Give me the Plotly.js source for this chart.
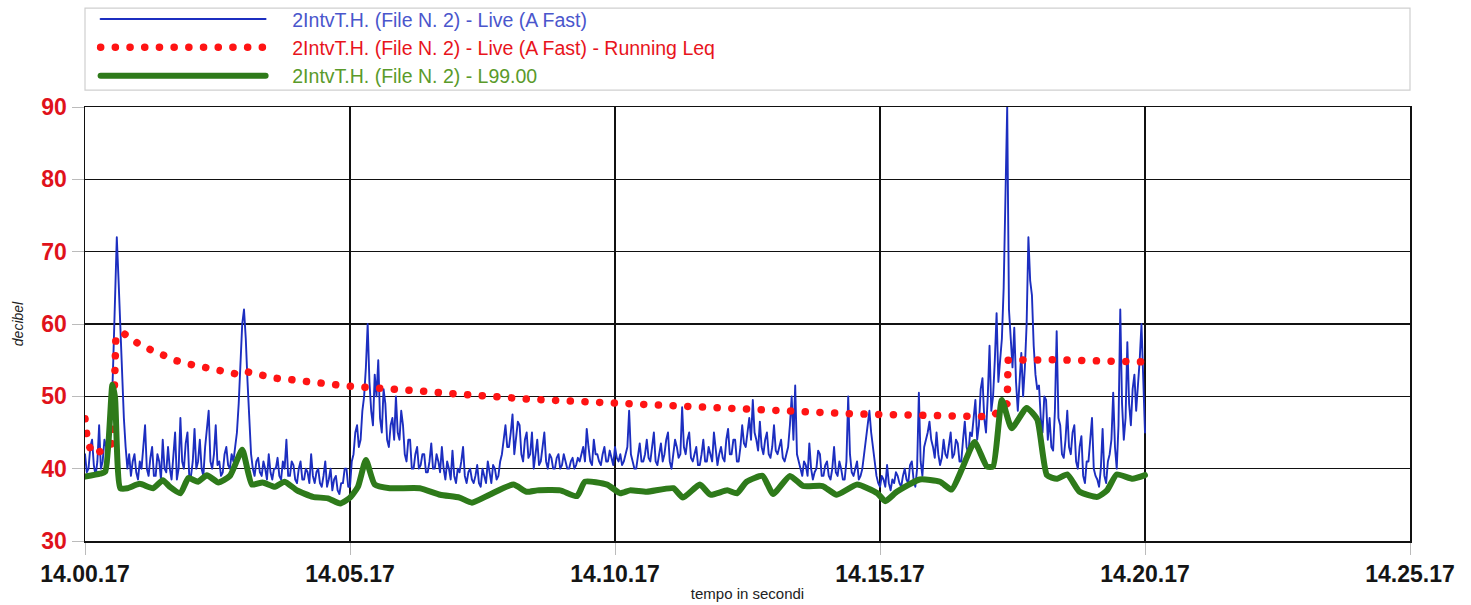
<!DOCTYPE html>
<html>
<head>
<meta charset="utf-8">
<script src="https://cdn.plot.ly/plotly-3.0.1.min.js"></script>
<style>
  html, body { margin: 0; padding: 0; background: #fff; }
  #chart { width: 1471px; height: 605px; }
  .js-line { stroke-linecap: round; stroke-linejoin: round; }
</style>
</head>
<body>
<div id="chart"></div>
<script>
// ---- data ----
const xTickSeconds = [0, 300, 600, 900, 1200, 1500];
const xTickLabels = ["14.00.17", "14.05.17", "14.10.17", "14.15.17", "14.20.17", "14.25.17"];
const yTickValues = [30, 40, 50, 60, 70, 80, 90];

const seriesNames = [
  "2IntvT.H. (File N. 2) - Live (A Fast)",
  "2IntvT.H. (File N. 2) - Live (A Fast) - Running Leq",
  "2IntvT.H. (File N. 2) - L99.00"
];

// Live (A Fast), one reading every 2 s from 14.00.17 (each row = 40 s)
const liveStepSec = 2;
const liveDb = [
  42,39.5,40,43,44,40.5,39,41,46,40,41,44,43,40,45,47,55,63,72,66,
  60,52,47,43,40,42,39,41,42,39.5,38.5,41,40,43,46,40,39,41.5,43,39,
  39,42,41,38.5,44,40,39.5,43,40,38.5,42,45,38.5,40,47,41,40,43.5,45,39,
  39,41,45.5,40,41,44,40,39,43,46,48,41,40,42,46,40.5,41,39,39.5,42,
  43,40.5,40,42,41,43,45,49,55,60,62,58,52,46,42,40,39,41,41.5,39.5,
  39,41,40,38.5,42,39.5,38.5,40,40,41.5,39,38.5,41,40,44,39,39,41,40.5,38.5,
  38,40,41,38.5,38.5,40,39.5,38,42,39,38,39.5,40,38,37.5,39,41,37.5,38.5,40,
  37,38.5,39,37,36.5,38,38,40,40,37.5,37.5,41,42,45,46,43,44,48,50,54,
  60,52,48,46,53,50,55,47,45,51,49,44,43,46,47,44,50,45,44,48,
  46,42,41,44,44,40,40,42,43,40,40.5,42,42,39.5,39.5,41,43.5,40,40,42,
  41,39.5,43,40,38.5,41,40,38.5,42.5,39,38,40,39.5,41,43,39,38,39.5,40,38.5,
  38,39,40.5,38,37.5,40,39,38,41,39.5,38,40.5,40,38.5,39,41,42,44,46,43,
  43,45,47.5,42,44,46.5,46,42,41,44,45,41.5,42,45,40,42,44,40.5,41,43,
  45,41,40,42,41.5,40,40,41.5,42,40,40.5,42,41,40,40,41,41.5,40,40.5,41.5,
  41,42,43,41,45.5,43,41,40.5,44,42,42,41,40.5,42,43,41,41,42.5,41.5,40.5,
  43,41.5,41,42,40.5,41,42,43,48,42,41,40,40,42,43.5,41,41,42,44,41.5,
  41,43,45,41,40.5,42,43.5,41,42,44,45,41,40,42,44,43,41.5,42,48.5,43,
  42,44,45,41.5,41,42,43,40.5,40.5,42,44,41,41,43,42,41,45,42.5,40.5,42,
  43,41.5,41,44,45.5,42,42,44,44,41,41,43,46,43.5,43,45,47,44,49.5,45,
  44,42.5,46.5,43,42,44,45,42,41.5,43,46,42.5,42,43,44,41.5,41,42,43,46,
  50,44,51.5,42,41,40,39,41,40.5,39,43.5,40,38.5,39.5,40,42.5,42,39,39,40.5,
  41,39,38.5,40,43,39.5,39,41,40,38.5,38.5,41,50,42,39.5,39,40,41,38.5,39,
  40,42,44,46,48,45,43,41,39,38,37.5,39,38.5,37.5,40.5,38,37,38.5,38,39.5,
  39,38,37.5,39,40,38.5,38,40.5,41,38.5,37.5,40,50.5,41,39,43,44,45,46.5,44,
  43,41.5,45,42,40.5,41.5,44,42,41.5,43,45,41.5,42,44,43.5,41,41,44,46.5,43,
  42,45,44.5,47,49.5,44,46,51,52.5,47,45,50,57,48,50,55,61.5,52,55,58,
  65,78,90,62,58,54,59.5,52,48,53,56,50,54,60,72,66,64,57,53,51,
  51.5,47,45,50,49.5,44,47,43,42.5,48,59,47,46,42,41.5,44,48,43,42,45,
  46,41,40,43,44.5,39,38,41,41,44,47,40,39,38.5,37.5,40,45.5,39,38,41,
  42,44,50.5,43,40,46,62,49,44,47,57.5,49,46,51,53,48,51,55,60,52,
  45
];

// Running Leq
const leqSec = [0,1,3,9,17,26,31,32,33,34,35,45,59,75,88,104,120,137,152,168,175,183,200,216,233,250,267,284,300,318,334,351,368,385,402,419,436,453,470,487,504,521,538,555,572,589,606,623,640,658,675,692,709,727,744,761,779,795,813,829,847,864,881,898,915,933,950,967,985,1002,1019,1030,1039,1044,1045,1063,1080,1098,1115,1132,1149,1167,1185,1202];
const leqDb  = [46.9,45.1,43.6,42.0,42.3,42.8,43.6,45.5,50,54,58.4,58.6,57.4,56.4,55.6,54.9,54.4,53.9,53.5,53.1,53.0,53.4,52.8,52.5,52.3,52.0,51.8,51.6,51.4,51.3,51.1,51.0,50.8,50.7,50.5,50.3,50.1,50.0,49.9,49.75,49.6,49.5,49.4,49.25,49.1,49.0,48.9,48.8,48.7,48.6,48.5,48.4,48.3,48.2,48.1,48.0,47.95,47.9,47.8,47.75,47.7,47.6,47.55,47.5,47.45,47.4,47.35,47.3,47.25,47.2,47.2,47.5,48.5,49,55.0,55.1,55.1,55.05,55.0,54.95,54.9,54.85,54.8,54.75];

// L99.00
const l99Sec = [0,17,23,31,34,40,48,62,77,88,96,108,117,128,138,151,164,178,189,201,215,226,240,258,275,289,300,309,318,328,345,379,402,424,438,458,485,500,512,538,557,566,591,606,617,636,666,677,696,708,727,738,749,767,779,798,813,835,851,874,897,906,919,945,968,981,994,1007,1021,1028,1038,1049,1066,1078,1089,1100,1112,1126,1146,1157,1168,1186,1200];
const l99Db  = [38.9,39.3,39.6,51.6,49.8,37.3,37.3,37.9,37.3,38.4,37.5,36.6,38.7,38.2,39.1,38.1,39.0,42.6,37.8,38.1,37.5,38.2,37.0,36.1,35.9,35.2,36.0,37.5,41.2,37.8,37.3,37.3,36.4,36.0,35.3,36.4,37.8,36.8,37.0,37.0,36.2,38.2,37.8,36.6,37.0,36.8,37.3,36.0,37.8,36.4,37.0,36.6,38.2,39.0,36.5,39.0,37.6,37.6,36.4,37.8,36.6,35.5,36.8,38.5,38.2,37.1,40.3,43.7,40.3,40.3,49.5,45.6,48.4,46.8,39.1,38.6,39.2,36.8,36.1,37.0,39.2,38.6,39.1];

// ---- chart ----
const liveSec = liveDb.map((_, i) => i * liveStepSec);
const FONT = "Liberation Sans, Arial, Helvetica, sans-serif";
const PAD = "\u00a0\u00a0\u00a0\u00a0";

const traces = [
  {
    x: liveSec, y: liveDb, type: "scatter", mode: "lines",
    name: PAD + '<span style="color:#4a56cc">' + seriesNames[0] + '</span>',
    line: { color: "#1c2ec0", width: 1.9 }
  },
  {
    x: leqSec, y: leqDb, type: "scatter", mode: "lines",
    name: PAD + '<span style="color:#e8141c">' + seriesNames[1] + '</span>',
    line: { color: "#ff1414", width: 7.5, dash: "0.1px,14.6px" }
  },
  {
    x: l99Sec, y: l99Db, type: "scatter", mode: "lines",
    name: PAD + '<span style="color:#5a9a2a">' + seriesNames[2] + '</span>',
    line: { color: "#2e7a1a", width: 6, shape: "spline", smoothing: 0.5 }
  }
];

const layout = {
  width: 1471, height: 605,
  paper_bgcolor: "#ffffff", plot_bgcolor: "#ffffff",
  margin: { l: 85, r: 61, t: 107, b: 64, autoexpand: false },
  font: { family: FONT, color: "#222" },
  showlegend: true,
  legend: {
    x: 0.008, y: 1.247, xanchor: "left", yanchor: "top",
    bgcolor: "rgba(0,0,0,0)", borderwidth: 0,
    font: { family: FONT, size: 19.5 },
    itemwidth: 165,
    traceorder: "normal"
  },
  xaxis: {
    range: [0, 1500], tickvals: xTickSeconds, ticktext: xTickLabels,
    showgrid: true, gridcolor: "#111", gridwidth: 1.5,
    zeroline: false, showline: true, linecolor: "#111", linewidth: 1.5, mirror: true,
    ticks: "outside", ticklen: 12, tickcolor: "#bbb", tickwidth: 1,
    tickfont: { family: FONT, size: 23, color: "#151515", weight: "bold" },
    title: { text: "tempo in secondi", font: { family: FONT, size: 15, color: "#222" }, standoff: 2 }
  },
  yaxis: {
    range: [30, 90], tickvals: yTickValues,
    showgrid: true, gridcolor: "#111", gridwidth: 1.5,
    zeroline: false, showline: true, linecolor: "#111", linewidth: 1.5, mirror: true,
    ticks: "outside", ticklen: 12, tickcolor: "#bbb", tickwidth: 1,
    tickfont: { family: FONT, size: 23, color: "#e0121b", weight: "bold" },
    title: { text: "<i>decibel</i>", font: { family: FONT, size: 14, color: "#222" }, standoff: 14 }
  },
  shapes: [
    { type: "rect", xref: "paper", yref: "paper", x0: 0, x1: 1, y0: 1.039, y1: 1.228,
      line: { color: "#cfcfcf", width: 1.2 }, fillcolor: "rgba(0,0,0,0)", layer: "below" }
  ]
};

Plotly.newPlot("chart", traces, layout, { staticPlot: true, displayModeBar: false });
</script>
</body>
</html>
